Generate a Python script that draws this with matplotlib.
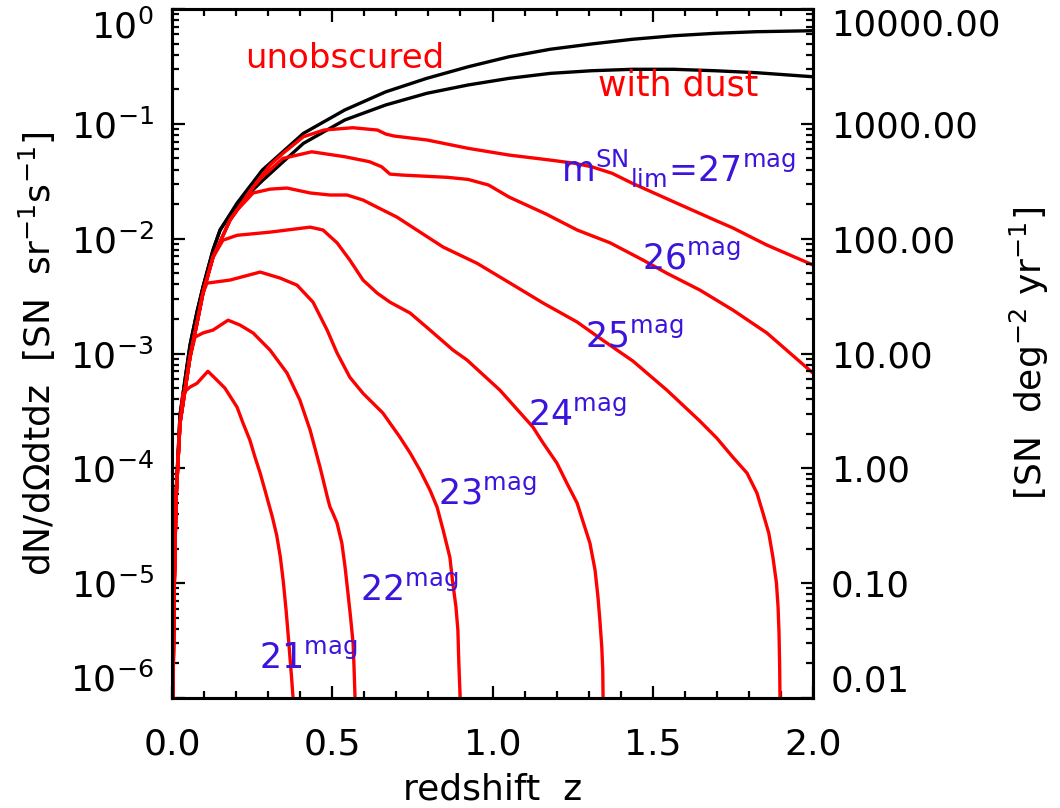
import matplotlib
matplotlib.use("Agg")
import matplotlib.pyplot as plt
from matplotlib.ticker import MultipleLocator, LogLocator, FixedLocator, FormatStrFormatter, NullFormatter

plt.rcParams['font.family'] = ['DejaVu Sans']
plt.rcParams['mathtext.fontset'] = 'dejavusans'

# ---------------- data ----------------
# common low-z envelope shared by all magnitude-limited (red) curves
z_env = [0.001, 0.0031, 0.0062, 0.0125, 0.025, 0.0406, 0.0562, 0.078, 0.0967, 0.128, 0.181, 0.253]
n_env = [6.2e-7, 1.02e-6, 7.1e-6, 5.3e-5, 2.48e-4, 4.8e-4, 9.3e-4, 1.84e-3, 3.36e-3, 6.9e-3, 1.45e-2, 2.81e-2]

# unobscured (black, upper)
z_unobs = [0.001, 0.0031, 0.0062, 0.0125, 0.025, 0.0406, 0.0562, 0.078, 0.0967, 0.128,
           0.150, 0.203, 0.282, 0.410, 0.539, 0.667, 0.795, 0.924, 1.052, 1.180,
           1.309, 1.437, 1.566, 1.694, 1.822, 2.0]
n_unobs = [6.2e-7, 1.17e-6, 7.9e-6, 5.8e-5, 2.9e-4, 5.9e-4, 1.18e-3, 2.3e-3, 3.79e-3, 7.96e-3,
           1.19e-2, 2.04e-2, 3.96e-2, 8.26e-2, 0.132, 0.190, 0.249, 0.314, 0.384, 0.446,
           0.496, 0.545, 0.585, 0.614, 0.634, 0.647]

# with dust (black, lower)
z_dust = [0.001, 0.0031, 0.0062, 0.0125, 0.025, 0.0406, 0.0562, 0.078, 0.0967, 0.128,
          0.150, 0.203, 0.282, 0.410, 0.539, 0.667, 0.795, 0.924, 1.052, 1.180,
          1.309, 1.437, 1.566, 1.694, 1.822, 2.0]
n_dust = [6.2e-7, 1.17e-6, 7.9e-6, 5.8e-5, 2.9e-4, 5.9e-4, 1.18e-3, 2.3e-3, 3.79e-3, 7.96e-3,
          1.19e-2, 1.96e-2, 3.2e-2, 6.76e-2, 0.108, 0.146, 0.1844, 0.218, 0.249, 0.275,
          0.290, 0.2985, 0.2985, 0.290, 0.279, 0.257]

mags = [21, 22, 23, 24, 25, 26, 27]

z21 = [0.034, 0.056, 0.078, 0.112, 0.134, 0.165, 0.203, 0.2215, 0.243, 0.259,
       0.275, 0.290, 0.313, 0.3266, 0.338, 0.3473, 0.356, 0.362, 0.368, 0.373,
       0.3775, 0.379]
n21 = [4.5e-4, 5.1e-4, 5.5e-4, 7.0e-4, 6.1e-4, 5.0e-4, 3.41e-4, 2.48e-4, 1.76e-4, 1.25e-4,
       9.1e-5, 6.46e-5, 3.78e-5, 2.62e-5, 1.69e-5, 1.03e-5, 5.8e-6, 3.67e-6, 2.27e-6, 1.52e-6,
       1.02e-6, 6.2e-7]

z22 = [0.0718, 0.0967, 0.128, 0.175, 0.212, 0.253, 0.306, 0.359, 0.399, 0.431,
       0.462, 0.487, 0.493, 0.502, 0.515, 0.530, 0.540, 0.549, 0.557, 0.565,
       0.568, 0.571, 0.572]
n22 = [1.39e-3, 1.51e-3, 1.6e-3, 1.95e-3, 1.77e-3, 1.51e-3, 1.07e-3, 6.75e-4, 3.93e-4, 2.15e-4,
       1.02e-4, 5.3e-5, 4.6e-5, 4.07e-5, 3.33e-5, 2.23e-5, 1.38e-5, 8.2e-6, 5.1e-6, 3.0e-6,
       1.85e-6, 1.02e-6, 6.2e-7]

z23 = [0.109, 0.181, 0.275, 0.337, 0.39, 0.44, 0.484, 0.515, 0.555, 0.596,
       0.658, 0.711, 0.743, 0.774, 0.805, 0.827, 0.846, 0.867, 0.875, 0.886,
       0.892, 0.895, 0.899, 0.8995]
n23 = [4.1e-3, 4.36e-3, 5.12e-3, 4.54e-3, 3.94e-3, 2.8e-3, 1.6e-3, 1.01e-3, 6.2e-4, 4.5e-4,
       3.03e-4, 1.87e-4, 1.36e-4, 9.6e-5, 6.46e-5, 4.6e-5, 2.9e-5, 1.68e-5, 1.06e-5, 6.2e-6,
       3.9e-6, 2.0e-6, 1.02e-6, 6.2e-7]

z24 = [0.159, 0.203, 0.306, 0.431, 0.471, 0.515, 0.555, 0.596, 0.640, 0.68,
       0.743, 0.805, 0.877, 0.920, 1.023, 1.126, 1.158, 1.201, 1.232, 1.264,
       1.284, 1.304, 1.320, 1.329, 1.335, 1.341, 1.344, 1.345, 1.3455]
n24 = [9.7e-3, 1.07e-2, 1.14e-2, 1.26e-2, 1.19e-2, 9.2e-3, 6.5e-3, 4.36e-3, 3.36e-3, 2.8e-3,
       2.25e-3, 1.6e-3, 1.07e-3, 8.8e-4, 4.8e-4, 2.29e-4, 1.66e-4, 1.11e-4, 7.43e-5, 4.98e-5,
       3.33e-5, 2.23e-5, 1.3e-5, 7.6e-6, 4.76e-6, 2.77e-6, 1.75e-6, 1.02e-6, 6.2e-7]

z25 = [0.203, 0.253, 0.306, 0.359, 0.431, 0.493, 0.546, 0.596, 0.640, 0.702,
       0.774, 0.846, 0.952, 1.055, 1.158, 1.264, 1.335, 1.438, 1.544, 1.647,
       1.700, 1.750, 1.794, 1.825, 1.844, 1.862, 1.875, 1.886, 1.891, 1.894,
       1.896, 1.897, 1.8975]
n25 = [1.77e-2, 2.5e-2, 2.7e-2, 2.76e-2, 2.5e-2, 2.4e-2, 2.4e-2, 2.17e-2, 1.88e-2, 1.54e-2,
       1.14e-2, 8.45e-3, 6.1e-3, 4.1e-3, 2.75e-3, 1.88e-3, 1.36e-3, 8.6e-4, 4.8e-4, 2.58e-4,
       1.83e-4, 1.25e-4, 9.1e-5, 6.1e-5, 4.07e-5, 2.73e-5, 1.68e-5, 1.0e-5, 6.2e-6, 3.67e-6,
       1.85e-6, 1.02e-6, 6.2e-7]

z26 = [0.282, 0.346, 0.436, 0.539, 0.616, 0.654, 0.680, 0.718, 0.860, 0.924,
       0.988, 1.052, 1.167, 1.264, 1.367, 1.470, 1.544, 1.647, 1.750, 1.856, 2.0]
n26 = [3.46e-2, 5.0e-2, 5.71e-2, 5.17e-2, 4.68e-2, 4.23e-2, 3.65e-2, 3.58e-2, 3.42e-2, 3.28e-2,
       2.93e-2, 2.3e-2, 1.64e-2, 1.19e-2, 9.2e-3, 6.5e-3, 5.0e-3, 3.57e-3, 2.39e-3, 1.51e-3, 6.75e-4]

z27 = [0.306, 0.346, 0.410, 0.474, 0.564, 0.641, 0.667, 0.693, 0.796, 0.924,
       1.051, 1.179, 1.257, 1.309, 1.373, 1.437, 1.566, 1.694, 1.750, 1.856, 2.0]
n27 = [4.38e-2, 5.53e-2, 7.72e-2, 8.83e-2, 9.25e-2, 8.83e-2, 8.15e-2, 7.83e-2, 7.23e-2, 6.12e-2,
       5.35e-2, 4.84e-2, 4.53e-2, 4.23e-2, 3.71e-2, 3.03e-2, 2.09e-2, 1.45e-2, 1.24e-2, 8.8e-3, 5.9e-3]

# how many envelope points precede each curve's own part
env_used = {21: 5, 22: 7, 23: 9, 24: 10, 25: 11, 26: 12, 27: 12}
tails = {21: (z21, n21), 22: (z22, n22), 23: (z23, n23), 24: (z24, n24),
         25: (z25, n25), 26: (z26, n26), 27: (z27, n27)}

label_text = {27: r'm$^{\mathregular{SN}}{}_{\mathregular{lim}}$=27$^{\mathregular{mag}}$',
              26: r'26$^{\mathregular{mag}}$', 25: r'25$^{\mathregular{mag}}$',
              24: r'24$^{\mathregular{mag}}$', 23: r'23$^{\mathregular{mag}}$',
              22: r'22$^{\mathregular{mag}}$', 21: r'21$^{\mathregular{mag}}$'}
label_pos = {27: (1.215, 3.11e-2), 26: (1.465, 5.5e-3), 25: (1.29, 1.14e-3),
             24: (1.112, 2.38e-4), 23: (0.831, 4.97e-5), 22: (0.588, 7.1e-6), 21: (0.27, 1.82e-6)}

xlim = (0.0, 2.0)
left_ticks = [1e-6, 1e-5, 1e-4, 1e-3, 1e-2, 1e-1, 1.0]
right_scale = 1e4          # SN deg^-2 yr^-1 per SN sr^-1 s^-1
right_ticks = [0.01, 0.1, 1, 10, 100, 1000, 10000]

RED = '#ff0000'
BLUE = '#3c14dc'

# ---------------- figure ----------------
fig = plt.figure(figsize=(10.6, 8.08), dpi=100)
ax = fig.add_axes([172/1060, 1-698/808, 641/1060, 689/808])
ax.set_yscale('log')
ax.set_xlim(*xlim)
ax.set_ylim(left_ticks[0], left_ticks[-1])

lw = 2.4
ax.plot(z_unobs, n_unobs, color='black', lw=lw, solid_joinstyle='round')
ax.plot(z_dust, n_dust, color='black', lw=lw, solid_joinstyle='round')
for m in mags:
    k = env_used[m]
    zt, nt = tails[m]
    ax.plot(z_env[:k] + zt, n_env[:k] + nt, color=RED, lw=lw, solid_joinstyle='round')

fs = 25
ax.text(0.228, 0.306, 'unobscured', color=RED, fontsize=24.5, va='baseline')
ax.text(1.329, 0.178, 'with dust', color=RED, fontsize=fs, va='baseline')
for m in mags:
    x, y = label_pos[m]
    ax.text(x, y, label_text[m], color=BLUE, fontsize=fs, va='baseline')

# axes styling
for s in ax.spines.values():
    s.set_linewidth(2.2)
ax.xaxis.set_major_locator(MultipleLocator(0.5))
ax.xaxis.set_minor_locator(MultipleLocator(0.1))
ax.xaxis.set_major_formatter(FormatStrFormatter('%.1f'))
ax.yaxis.set_major_locator(FixedLocator(left_ticks))
ax.yaxis.set_minor_locator(LogLocator(base=10, subs=range(2, 10), numticks=20))
ax.yaxis.set_minor_formatter(NullFormatter())
ax.tick_params(axis='both', which='both', direction='in', top=True, right=False, width=1.6)
ax.tick_params(axis='both', which='major', length=9, labelsize=26)
ax.tick_params(axis='both', which='minor', length=5)
ax.tick_params(axis='x', which='major', pad=21)
ax.tick_params(axis='y', which='major', pad=13)

ax.set_xlabel('redshift  z', fontsize=26)
ax.xaxis.set_label_coords(0.5, -0.108)
ax.set_ylabel(r'dN/d$\Omega$dtdz  [SN  sr$^{-1}$s$^{-1}$]', fontsize=26)
ax.yaxis.set_label_coords(-0.178, 0.5)

ax2 = ax.twinx()
ax2.set_yscale('log')
ax2.set_ylim(left_ticks[0]*right_scale, left_ticks[-1]*right_scale)
ax2.yaxis.set_major_locator(FixedLocator(right_ticks))
ax2.yaxis.set_major_formatter(FormatStrFormatter('%.2f'))
ax2.yaxis.set_minor_locator(LogLocator(base=10, subs=range(2, 10), numticks=20))
ax2.yaxis.set_minor_formatter(NullFormatter())
ax2.tick_params(axis='y', which='both', direction='in', width=1.6)
ax2.tick_params(axis='y', which='major', length=9, labelsize=25.5, pad=13)
ax2.tick_params(axis='y', which='minor', length=5)
for s in ax2.spines.values():
    s.set_linewidth(2.2)
ax2.set_ylabel(r'[SN  deg$^{-2}$ yr$^{-1}$]', fontsize=26)
ax2.yaxis.set_label_coords(1.304, 0.5)

# keep the end labels inside the axis range, as in the original
lt = ax.yaxis.get_major_ticks()
lt[0].label1.set_va('bottom')
lt[-1].label1.set_va('top')
rt = ax2.yaxis.get_major_ticks()
rt[0].label2.set_va('bottom')
rt[-1].label2.set_va('top')

fig.savefig('out.png', dpi=100)
